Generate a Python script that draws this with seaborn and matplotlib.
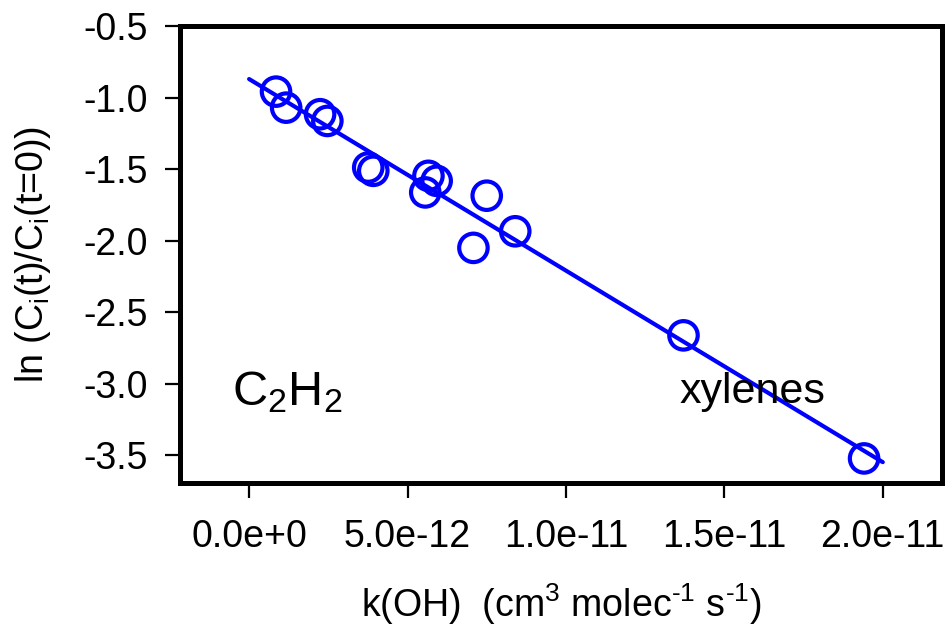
import matplotlib
matplotlib.use('Agg')
import matplotlib.pyplot as plt
import matplotlib.ticker as mticker
import seaborn as sns
import pandas as pd

# ------------------------------- datos
k_oh = [0.85e-12, 1.17e-12, 2.24e-12, 2.47e-12, 3.76e-12, 3.92e-12, 5.66e-12,
        5.92e-12, 5.56e-12, 7.50e-12, 8.40e-12, 7.08e-12, 13.71e-12, 19.41e-12]
ln_ratio = [-0.958, -1.070, -1.116, -1.163, -1.489, -1.512, -1.547,
            -1.582, -1.663, -1.686, -1.935, -2.051, -2.663, -3.524]

# recta de ajuste (extremos)
fit_k = [0.0, 2.0e-11]
fit_y = [-0.87, -3.55]

x_ticks = [0.0, 5.0e-12, 1.0e-11, 1.5e-11, 2.0e-11]
x_tick_labels = ['0.0e+0', '5.0e-12', '1.0e-11', '1.5e-11', '2.0e-11']
y_ticks = [-0.5, -1.0, -1.5, -2.0, -2.5, -3.0, -3.5]

sns.set_style("ticks")
plt.rcParams['font.family'] = ['Liberation Sans', 'DejaVu Sans']
plt.rcParams['mathtext.fontset'] = 'custom'
plt.rcParams['mathtext.rm'] = 'Liberation Sans'
plt.rcParams['mathtext.it'] = 'Liberation Sans'
plt.rcParams['axes.unicode_minus'] = False
plt.rcParams['text.color'] = 'black'
plt.rcParams['axes.labelcolor'] = 'black'
plt.rcParams['xtick.color'] = 'black'
plt.rcParams['ytick.color'] = 'black'

df = pd.DataFrame({'k': k_oh, 'y': ln_ratio})
df_fit = pd.DataFrame({'k': fit_k, 'y': fit_y})

fig = plt.figure(figsize=(9.48, 6.30), dpi=100)
ax = fig.add_axes([0.1899, 0.2333, 0.8038, 0.7254])

sns.lineplot(data=df_fit, x='k', y='y', color='#0000ff', linewidth=3.0, ax=ax)
sns.scatterplot(data=df, x='k', y='y', s=420, facecolor='none',
                edgecolor='#0000ff', linewidth=3.0, ax=ax, zorder=3)

ax.set_xlim(-2.18e-12, 2.187e-11)
ax.set_ylim(-3.696, -0.499)

ax.xaxis.set_major_locator(mticker.FixedLocator(x_ticks))
ax.set_xticklabels(x_tick_labels)
ax.yaxis.set_major_locator(mticker.FixedLocator(y_ticks))
ax.yaxis.set_major_formatter(mticker.FormatStrFormatter('%.1f'))

for sp in ax.spines.values():
    sp.set_visible(True)
    sp.set_linewidth(3.6)
    sp.set_color('black')

ax.tick_params(axis='both', direction='out', length=11, width=1.6,
               labelsize=27, color='black', labelcolor='black')
ax.tick_params(axis='x', pad=15)
ax.tick_params(axis='y', pad=12)

ax.set_xlabel(r'k(OH)  (cm$^{3}$ molec$^{\text{-1}}$ s$^{\text{-1}}$)',
              fontsize=27, labelpad=19, color='black')
ax.set_ylabel(r'ln (C$_{i}$(t)/C$_{i}$(t=0))', fontsize=27, labelpad=22, color='black')

# etiquetas dentro del panel
ax.text(-0.54e-12, -3.152, r'$\mathregular{C_2H_2}$', fontsize=35, va='baseline', ha='left',
        color='black')
ax.text(13.6e-12, -3.138, 'xylenes', fontsize=31, va='baseline', ha='left', color='black')

ax.grid(False)
plt.savefig('out.png', dpi=100)
